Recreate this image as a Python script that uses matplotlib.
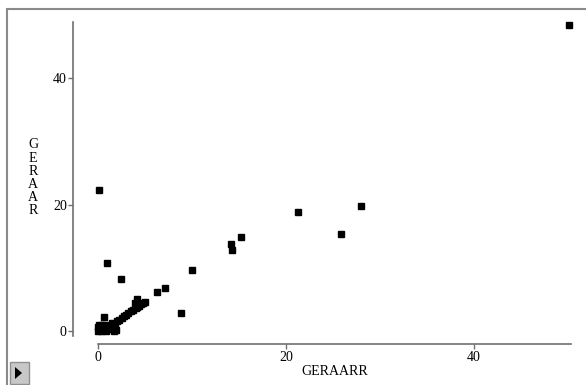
import matplotlib
matplotlib.use("Agg")
import matplotlib.pyplot as plt
from matplotlib.patches import Rectangle, Polygon

# scatter values (GERAARR vs GERAAR)
geraarr = [50.1, 0.1, 1.0, 2.4, 10.0, 6.3, 7.1, 8.8, 21.3, 25.8, 28.0,
           14.1, 14.3, 15.2, 0.6,
           0.0, 0.1, 0.2, 0.3, 0.5, 0.7, 0.9, 1.0, 0.4, 0.1, 1.2, 1.7, 1.9,
           1.8, 1.5, 1.3, 2.0, 0.0, 0.6,
           2.2, 2.5, 2.8, 3.0, 3.2, 3.5, 3.7, 4.0, 4.2, 4.4, 4.6, 4.8, 5.0,
           4.1, 3.9]
geraar = [48.5, 22.3, 10.7, 8.2, 9.6, 6.1, 6.8, 2.8, 18.9, 15.4, 19.8,
          13.7, 12.8, 14.8, 2.2,
          0.0, 0.3, 0.6, 0.0, 0.2, 0.5, 0.0, 0.8, 1.0, 1.0, 0.3, 0.0, 0.1,
          0.6, 1.2, 1.0, 1.5, 0.6, 0.9,
          1.8, 2.1, 2.4, 2.6, 2.9, 3.1, 3.3, 3.6, 3.8, 4.0, 4.2, 4.4, 4.6,
          5.0, 4.4]
x_ticks = [0, 20, 40]
y_ticks = [0, 20, 40]

plt.rcParams['font.family'] = ['Liberation Serif', 'DejaVu Serif']

fig = plt.figure(figsize=(5.86, 3.85), dpi=100)
ax = fig.add_axes([98 / 586, 49 / 385, 473 / 586, 314 / 385])

ax.plot(geraarr, geraar, 's', color='black', markersize=4.4, clip_on=False)

ax.set_xlim(0, 50.3)
ax.set_ylim(-0.8, 48.9)
ax.set_xticks(x_ticks)
ax.set_yticks(y_ticks)

for side in ['top', 'right']:
    ax.spines[side].set_visible(False)
ax.spines['left'].set_position(('outward', 18))
ax.spines['bottom'].set_position(('outward', 6))
ax.spines['bottom'].set_bounds(0, 50.3)
for side in ['left', 'bottom']:
    ax.spines[side].set_color('#707070')
    ax.spines[side].set_linewidth(1.2)
ax.tick_params(direction='out', length=3.5, width=1, color='#707070',
               labelsize=10, pad=1)

ax.set_xlabel('GERAARR', fontsize=10, labelpad=1)
fig.text(33 / 586, 1 - 178 / 385, 'G\nE\nR\nA\nA\nR', fontsize=10,
         ha='center', va='center', linespacing=1.02)

# outer frame and the little play button
fig.patches.append(Rectangle((7 / 586, -0.1), 1.2, 1 - 9 / 385 + 0.1,
                             transform=fig.transFigure, fill=False,
                             edgecolor='#8a8a8a', linewidth=1.5))
fig.patches.append(Rectangle((10 / 586, 1 / 385), 19 / 586, 22 / 385,
                             transform=fig.transFigure, facecolor='#c8c8c8',
                             edgecolor='#909090', linewidth=1))
fig.patches.append(Polygon([(15 / 586, 6 / 385), (15 / 586, 18 / 385),
                            (22 / 586, 12 / 385)], closed=True,
                           transform=fig.transFigure, facecolor='black'))

fig.savefig('out.png', dpi=100)
